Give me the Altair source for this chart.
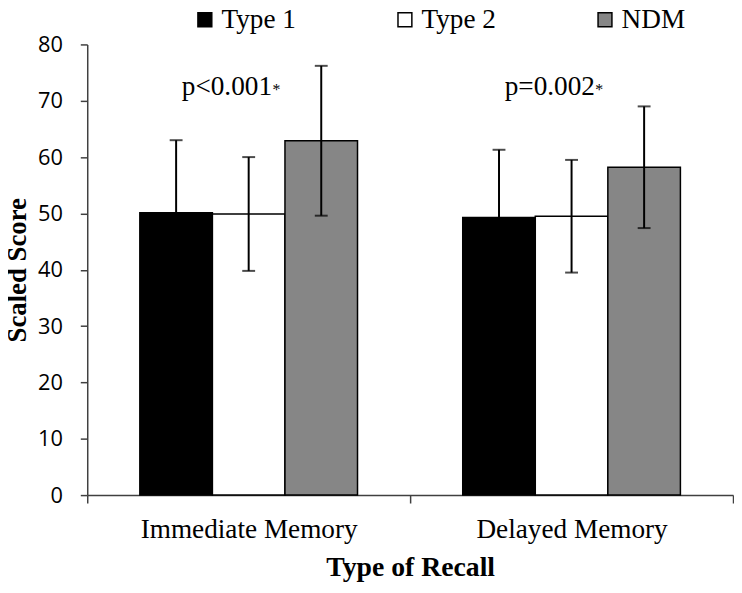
import altair as alt
import pandas as pd

categories = ["Immediate Memory", "Delayed Memory"]
groups = ["Type 1", "Type 2", "NDM"]
mean_type1 = [50.1, 49.3]
mean_type2 = [49.9, 49.5]
mean_ndm = [62.9, 58.2]
sd_type1 = [12.9, 12.0]
sd_type2 = [10.1, 10.0]
sd_ndm = [13.3, 10.8]
p_labels = ["p<0.001", "p=0.002"]
p_label_y = [71, 71]
y_ticks = [0, 10, 20, 30, 40, 50, 60, 70, 80]

rows = []
for i, cat in enumerate(categories):
    for g, m, s in zip(groups,
                       [mean_type1[i], mean_type2[i], mean_ndm[i]],
                       [sd_type1[i], sd_type2[i], sd_ndm[i]]):
        rows.append({"recall": cat, "group": g, "mean": m, "lo": m - s, "hi": m + s})
df = pd.DataFrame(rows)
ann = pd.DataFrame({"recall": categories, "y": p_label_y, "label": p_labels, "star": ["*", "*"]})

W, H = 652, 455
PO = 0.725
SERIF = "Liberation Serif"
SANS = "Open Sans"
AX = "#404040"

x_enc = alt.X("recall:N", sort=categories, title="Type of Recall",
              scale=alt.Scale(paddingInner=0, paddingOuter=0),
              axis=alt.Axis(labelAngle=0, tickBand="extent", tickSize=8, tickColor=AX,
                            tickWidth=1.5, domainColor=AX, domainWidth=1.5,
                            labelFont=SERIF, labelFontSize=27.5, labelColor="black",
                            labelLimit=0, labelPadding=13, titleFont=SERIF,
                            titleFontSize=28, titleFontWeight="bold", titleColor="black",
                            titlePadding=11))
xo_enc = alt.XOffset("group:N", sort=groups,
                     scale=alt.Scale(domain=groups, paddingOuter=PO, paddingInner=0))
y_scale = alt.Scale(domain=[0, 80], nice=False)
y_axis = alt.Axis(values=y_ticks, grid=False, tickSize=7, tickColor=AX, tickWidth=1.5,
                  domainColor=AX, domainWidth=1.5, labelFont=SANS, labelFontSize=22,
                  labelColor="black", labelPadding=18, titleFont=SERIF, titleFontSize=27,
                  titleFontWeight="bold", titleColor="black", titlePadding=6)

base = alt.Chart(df)

bars = base.mark_bar(stroke="black", strokeWidth=1.5).encode(
    x=x_enc, xOffset=xo_enc,
    y=alt.Y("mean:Q", scale=y_scale, axis=y_axis, title="Scaled Score"),
    color=alt.Color("group:N", sort=groups,
                    scale=alt.Scale(domain=groups, range=["#000000", "#ffffff", "#868686"]),
                    legend=alt.Legend(title=None, orient="none", direction="horizontal",
                                      legendX=105, legendY=-39, symbolType="square",
                                      symbolSize=196, symbolStrokeColor="black",
                                      symbolStrokeWidth=1.5, labelFont=SERIF,
                                      labelFontSize=27.5, labelColor="black",
                                      labelOffset=3, columnPadding=96,
                                      labelBaseline="middle")),
)

rules = base.mark_rule(color="black", strokeWidth=2).encode(
    x=x_enc, xOffset=xo_enc,
    y=alt.Y("lo:Q", scale=y_scale, axis=y_axis, title="Scaled Score"),
    y2="hi:Q",
)
cap_hi = base.mark_tick(orient="horizontal", size=13, thickness=2, color="black").encode(
    x=x_enc, xOffset=xo_enc,
    y=alt.Y("hi:Q", scale=y_scale, axis=y_axis, title="Scaled Score"),
)
cap_lo = base.mark_tick(orient="horizontal", size=13, thickness=2, color="black").encode(
    x=x_enc, xOffset=xo_enc,
    y=alt.Y("lo:Q", scale=y_scale, axis=y_axis, title="Scaled Score"),
)

ann_base = alt.Chart(ann)
ptext = ann_base.mark_text(font=SERIF, fontSize=27.5, color="black", align="center",
                           baseline="alphabetic", dx=-22).encode(
    x=x_enc,
    y=alt.Y("y:Q", scale=y_scale, axis=y_axis, title="Scaled Score"),
    text="label:N",
)
star = ann_base.mark_text(font=SERIF, fontSize=16, color="black", align="left",
                          baseline="alphabetic", dx=24).encode(
    x=x_enc,
    y=alt.Y("y:Q", scale=y_scale, axis=y_axis, title="Scaled Score"),
    text="star:N",
)

chart = alt.layer(bars, rules, cap_hi, cap_lo, ptext, star).properties(
    width=W, height=H, autosize="none",
    padding={"left": 80, "top": 34, "right": 1, "bottom": 88},
    background="white",
).configure_view(stroke=None)

chart.save("out.html", embed_options={"renderer": "svg", "actions": False})
